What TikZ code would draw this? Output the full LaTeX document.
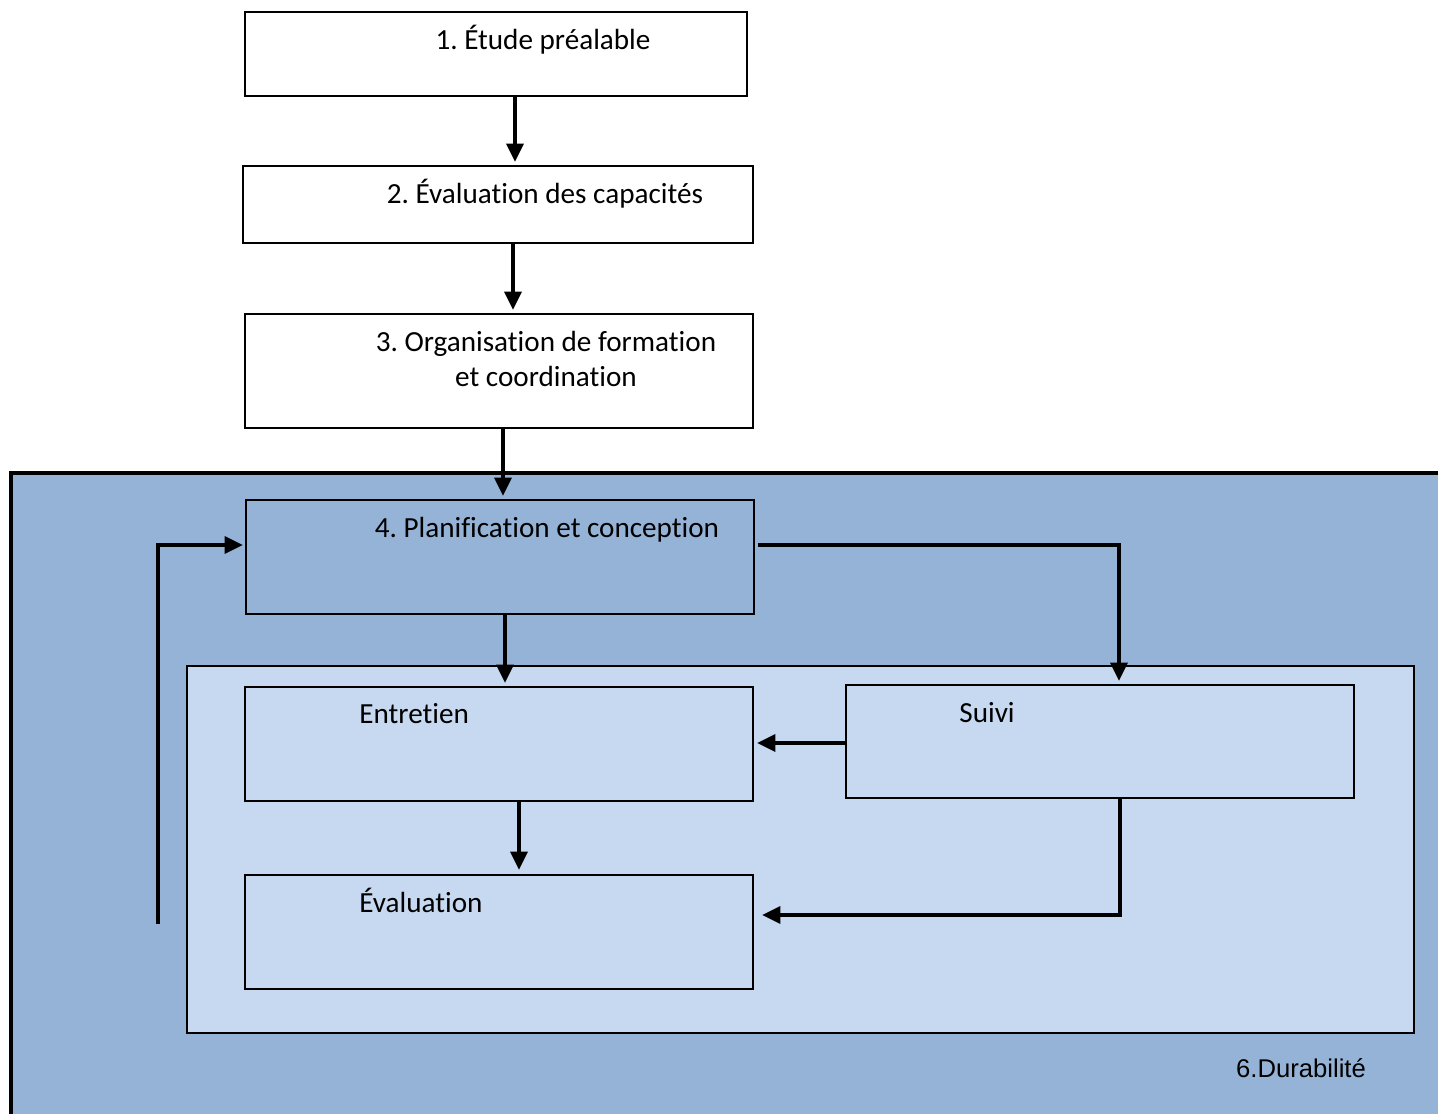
\documentclass[tikz,border=0pt]{standalone}
\usepackage{fontspec}
\setmainfont[Ligatures=NoCommon]{Carlito}
\newfontfamily\arialfont{Liberation Sans}
\usepackage{xcolor}
\usetikzlibrary{positioning,arrows.meta,calc}
\frenchspacing

\definecolor{zonedark}{HTML}{95B3D7}
\definecolor{zonelight}{HTML}{C6D9F0}

\begin{document}
\begin{tikzpicture}[
  x=0.02cm, y=-0.02cm,
  box/.style={rectangle, draw, line width=1.1pt, minimum width=10.16cm, minimum height=2.28cm, inner sep=0pt},
  txt/.style={font=\fontsize{16.6}{19.8}\selectfont, align=center, inner sep=0pt, anchor=base},
  flow/.style={line width=2.4pt, -{Triangle[length=10.5pt, width=9.5pt]}}
]
\useasboundingbox (0,0) rectangle (1438,1114);

% Zone 6 (durabilite)
\filldraw[fill=zonedark, line width=2pt] (11,473) rectangle (1470,1150);
\node[font=\arialfont\fontsize{14.6}{17}\selectfont, anchor=base] (lab6) at (1301,1077) {6.Durabilité};

% Inner zone
\filldraw[fill=zonelight, line width=1.1pt] (187,666) rectangle (1414,1033);

% Steps 1-4
\node[box, fill=white, minimum width=10.04cm, minimum height=1.68cm,
  label={[txt, xshift=0.94cm, yshift=-0.76cm]north:{1. Étude préalable}}] (s1) at (496,54) {};
\node[box, fill=white, minimum width=10.2cm, minimum height=1.54cm,
  label={[txt, xshift=0.94cm, yshift=-0.76cm]north:{2. Évaluation des capacités}}] (s2) at (498,204.5) {};
\node[box, fill=white,
  label={[txt, xshift=0.94cm, yshift=-1.46cm]north:{3. Organisation de formation\\et coordination}}] (s3) at (499,371) {};
\node[box, fill=zonedark,
  label={[txt, xshift=0.94cm, yshift=-0.76cm]north:{4. Planification et conception}}] (s4) at (500,557) {};

% Entretien, suivi, evaluation
\node[box, fill=zonelight,
  label={[txt, anchor=base west, xshift=2.3cm, yshift=-0.74cm]north west:{Entretien}}] (entr) at (499,744) {};
\node[box, fill=zonelight, minimum height=2.26cm,
  label={[txt, anchor=base west, xshift=2.28cm, yshift=-0.76cm]north west:{Suivi}}] (suivi) at (1100,741.5) {};
\node[box, fill=zonelight,
  label={[txt, anchor=base west, xshift=2.3cm, yshift=-0.76cm]north west:{Évaluation}}] (evalu) at (499,932) {};

\coordinate (retour) at (158,924);

% Arrows
\draw[flow] ([xshift=0.38cm]s1.south) -- ([xshift=0.38cm, yshift=0.06cm]s1.south |- s2.north);
\draw[flow] ([xshift=0.3cm]s2.south) -- ([xshift=0.3cm, yshift=0.06cm]s2.south |- s3.north);
\draw[flow] ([xshift=0.08cm]s3.south) -- ([xshift=0.08cm, yshift=0.06cm]s3.south |- s4.north);
\draw[flow] ([xshift=0.1cm]s4.south) -- ([xshift=0.1cm, yshift=0.06cm]s4.south |- entr.north);
\draw[flow] ([xshift=0.06cm, yshift=0.24cm]s4.east) -| ([xshift=0.38cm, yshift=0.06cm]suivi.north);
\draw[flow] ([xshift=0.04cm, yshift=-0.03cm]suivi.west) -- ([xshift=0.06cm, yshift=-0.03cm]suivi.west -| entr.east);
\draw[flow] ([xshift=0.4cm]suivi.south) |- ([xshift=0.16cm, yshift=0.34cm]evalu.east);
\draw[flow] ([xshift=0.4cm]entr.south) -- ([xshift=0.4cm, yshift=0.08cm]entr.south |- evalu.north);
\draw[flow] (retour) |- ([xshift=-0.04cm, yshift=0.24cm]s4.west);

\end{tikzpicture}
\end{document}
